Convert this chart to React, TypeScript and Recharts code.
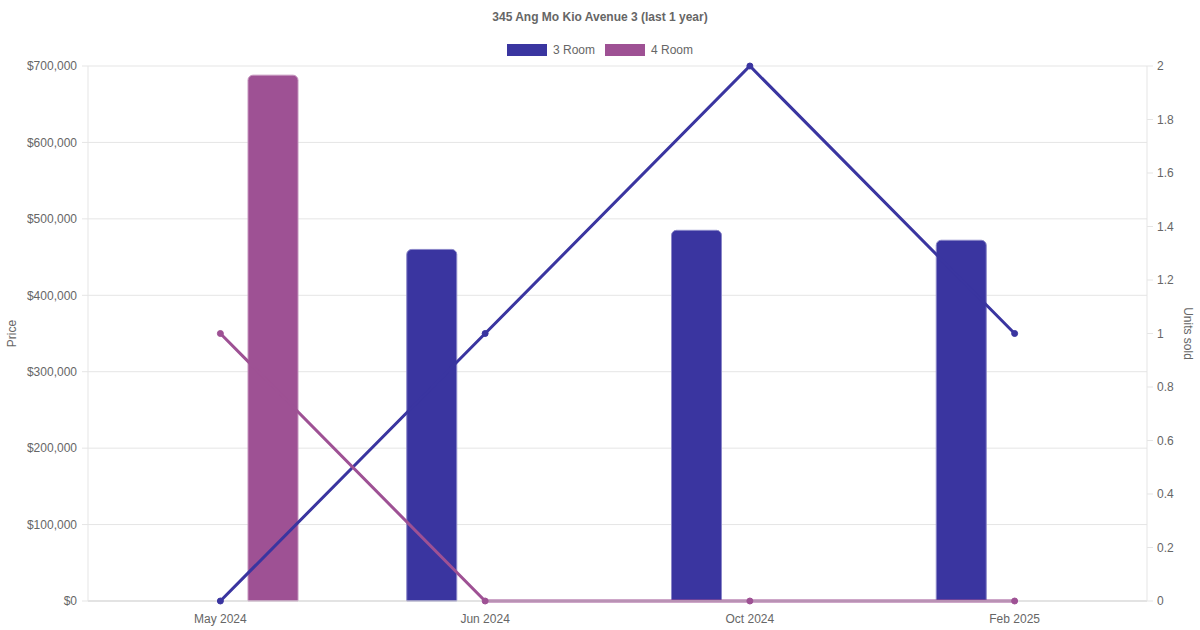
import React from 'react';
import {
    ComposedChart,
    Bar,
    Line,
    XAxis,
    YAxis,
    CartesianGrid,
} from 'recharts';

const months = ['May 2024', 'Jun 2024', 'Oct 2024', 'Feb 2025'];
const price3Room = [null, 460000, 485000, 472000];
const price4Room = [688000, null, null, null];
const units3Room = [0, 1, 2, 1];
const units4Room = [1, 0, 0, 0];
const priceTicks = [0, 100000, 200000, 300000, 400000, 500000, 600000, 700000];
const unitTicks = [0, 0.2, 0.4, 0.6, 0.8, 1, 1.2, 1.4, 1.6, 1.8, 2];

const data = months.map((m, i) => ({
    month: m,
    price3: price3Room[i],
    price4: price4Room[i],
    units3: units3Room[i],
    units4: units4Room[i],
}));

const BLUE = '#3a35a0';
const PURPLE = '#9e5194';
const FONT = '"Liberation Sans", Arial, Helvetica, sans-serif';
const tickStyle = { fill: '#666', fontSize: 12, fontFamily: FONT };

const fmtPrice = (v: number) => '$' + v.toLocaleString('en-US');

const LegendItem: React.FC<{ color: string; label: string }> = ({ color, label }) => (
    <div style={{ display: 'flex', alignItems: 'center', margin: '0 5px' }}>
        <span style={{ width: 40, height: 12, background: color, display: 'inline-block', marginRight: 6 }} />
        <span style={{ fontSize: 12, color: '#666' }}>{label}</span>
    </div>
);

const App: React.FC = () => (
    <div style={{ position: 'absolute', left: 0, top: 0, width: 1200, height: 630, background: '#fff', fontFamily: FONT }}>
        <div style={{ position: 'absolute', top: 10, width: 1200, textAlign: 'center', fontSize: 12, fontWeight: 'bold', color: '#666' }}>
            345 Ang Mo Kio Avenue 3 (last 1 year)
        </div>
        <div style={{ position: 'absolute', top: 43, width: 1200, display: 'flex', justifyContent: 'center' }}>
            <LegendItem color={BLUE} label="3 Room" />
            <LegendItem color={PURPLE} label="4 Room" />
        </div>
        <ComposedChart
            width={1200}
            height={630}
            data={data}
            margin={{ top: 66, right: 0, bottom: 0, left: 0 }}
            barGap={56}
        >
            <CartesianGrid yAxisId="price" vertical={false} stroke="#e5e5e5" />
            <XAxis
                dataKey="month"
                height={29}
                tick={tickStyle}
                tickLine={false}
                tickMargin={7}
                axisLine={{ stroke: '#d4d4d4' }}
            />
            <YAxis
                yAxisId="price"
                orientation="left"
                width={88}
                domain={[0, 700000]}
                ticks={priceTicks}
                tickFormatter={fmtPrice}
                tick={tickStyle}
                tickSize={6}
                tickMargin={5}
                tickLine={{ stroke: '#e5e5e5' }}
                axisLine={{ stroke: '#e5e5e5' }}
                label={{ value: 'Price', angle: -90, position: 'insideLeft', offset: 12, style: { fill: '#666', fontSize: 12, fontFamily: FONT, textAnchor: 'middle' } }}
            />
            <YAxis
                yAxisId="units"
                orientation="right"
                width={53}
                domain={[0, 2]}
                ticks={unitTicks}
                tick={tickStyle}
                tickSize={6}
                tickMargin={4}
                tickLine={{ stroke: '#e5e5e5' }}
                axisLine={{ stroke: '#e5e5e5' }}
                label={{ value: 'Units sold', angle: 90, position: 'insideRight', offset: 12, style: { fill: '#666', fontSize: 12, fontFamily: FONT, textAnchor: 'middle' } }}
            />
            <Line
                yAxisId="units"
                dataKey="units3"
                type="linear"
                stroke={BLUE}
                strokeWidth={3}
                dot={{ r: 3, fill: BLUE, stroke: BLUE, strokeWidth: 1 }}
                isAnimationActive={false}
            />
            <Line
                yAxisId="units"
                dataKey="units4"
                type="linear"
                stroke={PURPLE}
                strokeWidth={3}
                dot={{ r: 3, fill: PURPLE, stroke: PURPLE, strokeWidth: 1 }}
                isAnimationActive={false}
            />
            <Bar
                yAxisId="price"
                dataKey="price3"
                fill={BLUE}
                stroke="#8a87c8"
                strokeWidth={1}
                barSize={50}
                radius={[5, 5, 0, 0]}
                isAnimationActive={false}
            />
            <Bar
                yAxisId="price"
                dataKey="price4"
                fill={PURPLE}
                stroke="#c596be"
                strokeWidth={1}
                barSize={50}
                radius={[5, 5, 0, 0]}
                isAnimationActive={false}
            />
        </ComposedChart>
    </div>
);

export default App;
